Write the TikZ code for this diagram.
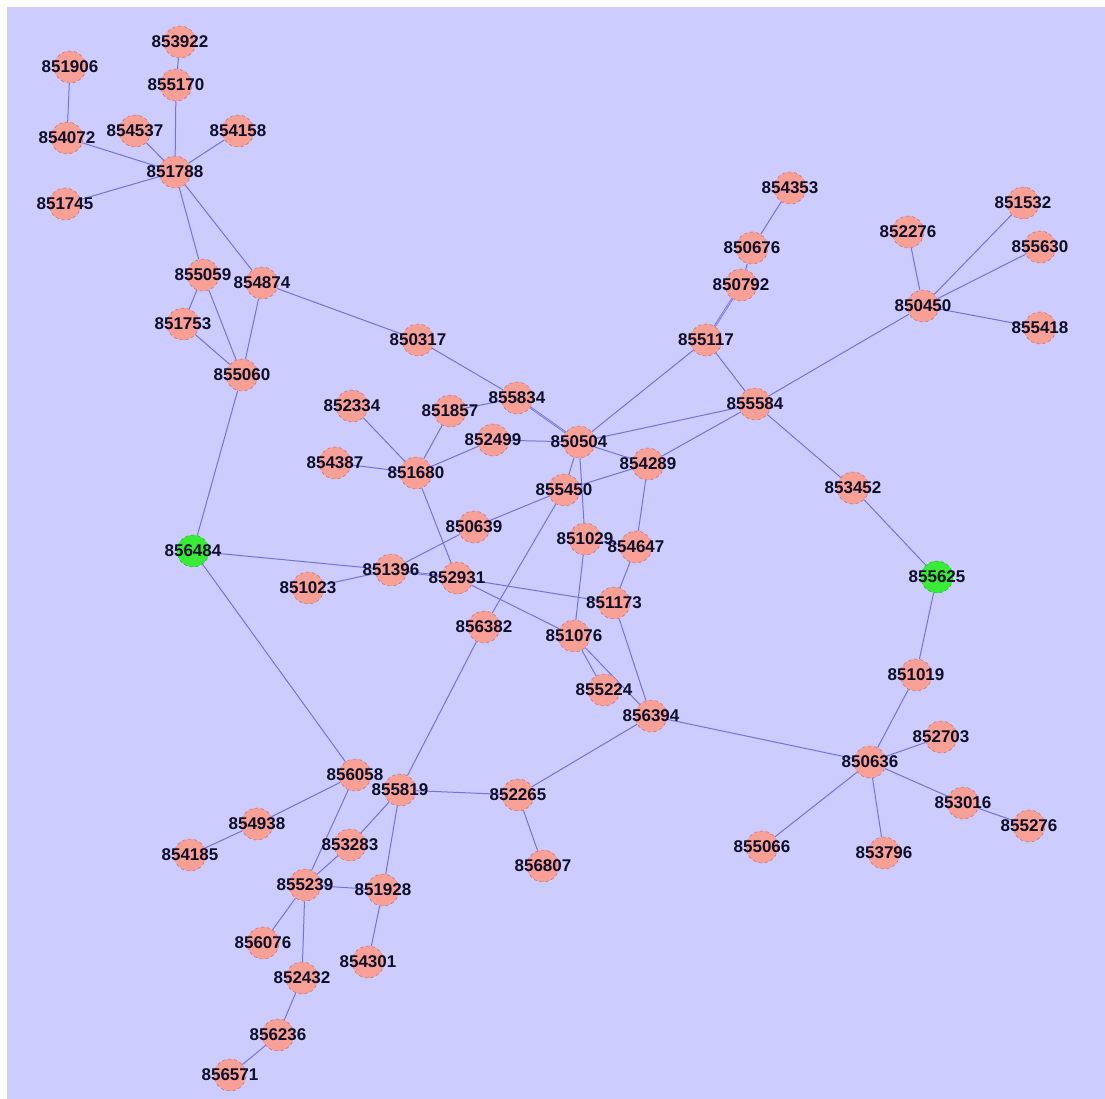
\documentclass[tikz,border=0pt]{standalone}
\usepackage{fontspec}
\setmainfont{Liberation Sans}
\usetikzlibrary{backgrounds}
\definecolor{bgc}{RGB}{204,204,255}
\definecolor{edgec}{RGB}{115,115,220}
\definecolor{salmonc}{RGB}{248,160,150}
\definecolor{nborder}{RGB}{185,110,125}
\definecolor{greenc}{RGB}{55,235,55}
\definecolor{txtc}{RGB}{15,15,40}
\tikzset{
  vert/.style={circle, minimum size=32pt, inner sep=0pt, fill=salmonc, draw=nborder, dashed, line width=0.5pt,
    label={[font=\bfseries\fontsize{17}{17}\selectfont, text=txtc, inner sep=0pt]center:#1}},
  seed/.style={vert=#1, fill=greenc, draw=greenc!75!black},
  link/.style={draw=edgec, line width=1pt},
  dlink/.style={draw=edgec, line width=0.7pt, double=bgc!60!edgec, double distance=0.7pt}
}
\begin{document}
\begin{tikzpicture}[x=1pt,y=-1pt]
\useasboundingbox (0,0) rectangle (1105,1099);
% nodes
\foreach \x/\y/\n in {
180/42/853922, 70/67/851906, 176/85/855170, 67/138/854072, 135/131/854537, 238/131/854158,
175/172/851788, 65/204/851745, 203/275/855059, 262/283/854874, 183/324/851753, 242/375/855060,
418/340/850317, 517/398/855834, 352/406/852334, 450/411/851857, 493/440/852499, 579/442/850504,
335/463/854387, 416/473/851680, 648/464/854289, 564/490/855450, 474/527/850639, 585/539/851029,
636/547/854647, 391/570/851396, 457/578/852931, 308/588/851023, 614/603/851173,
484/627/856382, 574/636/851076, 604/690/855224, 651/716/856394, 706/340/855117, 755/404/855584,
853/488/853452, 916/675/851019, 870/762/850636, 941/737/852703, 963/803/853016,
1029/826/855276, 762/847/855066, 884/853/853796, 790/188/854353, 752/248/850676, 741/285/850792,
908/232/852276, 1023/203/851532, 1040/247/855630, 923/306/850450, 1040/328/855418,
355/775/856058, 400/790/855819, 518/795/852265, 257/824/854938, 190/855/854185, 350/845/853283,
305/885/855239, 383/890/851928, 543/866/856807, 263/943/856076, 368/962/854301, 302/978/852432,
278/1035/856236, 230/1075/856571}
  \node[vert=\n] (n\n) at (\x,\y) {};
\node[seed=856484] (n856484) at (193,551) {};
\node[seed=855625] (n855625) at (937,577) {};
% edges
\begin{scope}[on background layer]
\fill[white] (0,0) rectangle (1105,1099);
\fill[bgc] (7,7) rectangle (1105,1099);
\foreach \a/\b in {
853922/855170, 851906/854072, 855170/851788, 854072/851788, 854537/851788, 854158/851788,
851745/851788, 851788/855059, 851788/854874, 855059/851753, 855059/855060, 851753/855060,
854874/855060, 854874/850317, 850317/855834, 851857/855834, 852334/851680, 851857/851680,
852499/851680, 852499/850504, 854387/851680, 851680/852931, 850504/855117, 850504/855584,
850504/854289, 850504/855450, 850504/851029, 855450/854289, 855450/850639, 855450/856382,
850639/851396, 856484/851396, 851023/851396, 852931/851173, 852931/851076,
851029/851076, 851029/854647, 854289/854647, 854647/851173, 851173/856394, 851076/855224,
851076/856394, 856394/850636, 856394/852265, 850792/850676, 850676/854353,
855117/855584, 855584/850450, 855584/854289, 855584/853452, 853452/855625, 855625/851019,
851019/850636, 850636/852703, 850636/853016, 853016/855276, 850636/855066, 850636/853796,
850450/852276, 850450/851532, 850450/855630, 850450/855418, 855060/856484, 856484/856058,
856058/854938, 854938/854185, 856058/855239, 855819/856382, 855819/852265, 855819/853283,
855819/851928, 853283/855239, 855239/851928, 855239/856076, 855239/852432, 851928/854301,
852432/856236, 856236/856571, 852265/856807}
  \draw[link] (n\a) -- (n\b);
\foreach \a/\b in {855834/850504, 850792/855117, 851396/852931}
  \draw[dlink] (n\a) -- (n\b);
\end{scope}
\end{tikzpicture}
\end{document}
